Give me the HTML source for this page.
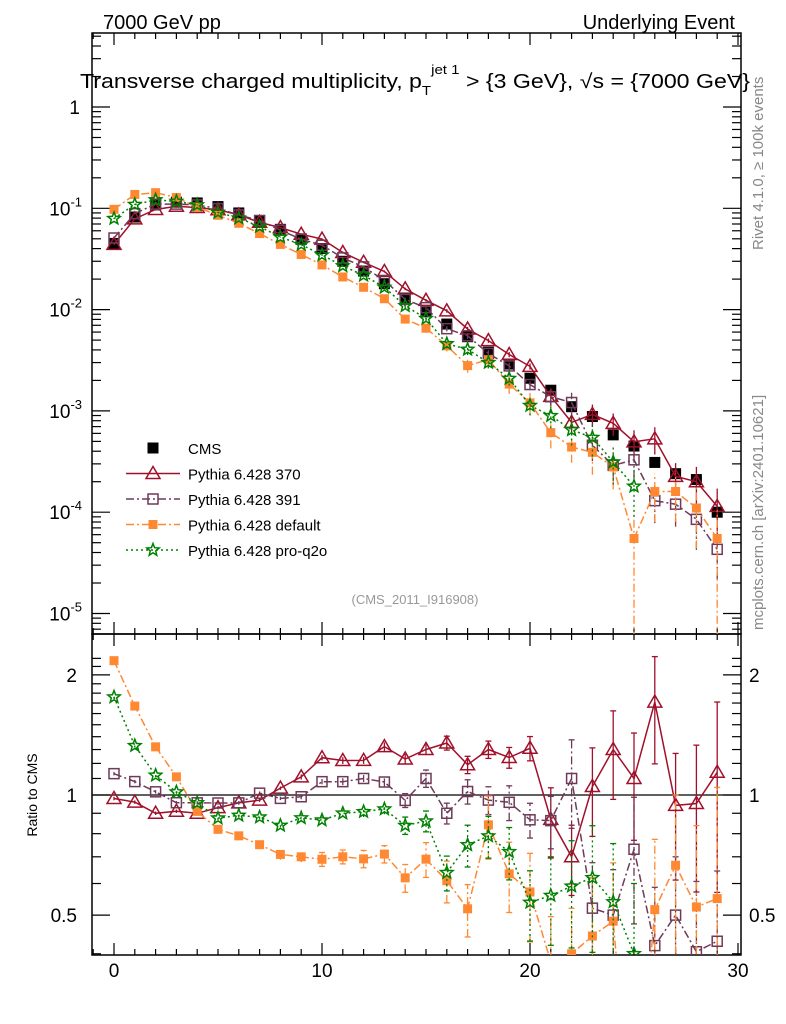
<!DOCTYPE html>
<html><head><meta charset="utf-8"><style>
html,body{margin:0;padding:0;background:#fff;width:786px;height:1024px;overflow:hidden;}
svg{display:block;font-family:"Liberation Sans",Arial,sans-serif;}
</style></head><body>
<svg id="chart" width="786" height="1024" viewBox="0 0 786 1024" xmlns="http://www.w3.org/2000/svg">
<defs>
<clipPath id="clipMain"><rect x="92" y="33" width="649" height="601"/></clipPath>
<clipPath id="clipRatio"><rect x="92" y="634" width="649" height="321"/></clipPath>
</defs>
<text x="103" y="29" font-size="20">7000 GeV pp</text>
<text x="735" y="29" font-size="20" text-anchor="end">Underlying Event</text>
<text x="80" y="88" font-size="20" textLength="670" lengthAdjust="spacingAndGlyphs">Transverse charged multiplicity, p<tspan font-size="13" dy="7">T</tspan><tspan font-size="13" dy="-21">jet 1</tspan><tspan dy="14"> &gt; {3 GeV}, √s = {7000 GeV}</tspan></text>
<text transform="translate(763,250) rotate(-90)" font-size="15" fill="#888">Rivet 4.1.0, ≥ 100k events</text>
<text transform="translate(763,630) rotate(-90)" font-size="15" fill="#888">mcplots.cern.ch [arXiv:2401.10621]</text>
<text x="415" y="604" font-size="13" fill="#999" text-anchor="middle">(CMS_2011_I916908)</text>
<text transform="translate(37,795) rotate(-90)" font-size="14" text-anchor="middle">Ratio to CMS</text>
<g id="axes"></g>
<g id="mainMarks" clip-path="url(#clipMain)"></g>
<g id="ratioMarks" clip-path="url(#clipRatio)"></g>
<g id="legend"></g>
</svg>
<script>
const xs = [0,1,2,3,4,5,6,7,8,9,10,11,12,13,14,15,16,17,18,19,20,21,22,23,24,25,26,27,28,29];
const cmsVals = [0.045,0.082,0.108,0.115,0.113,0.104,0.09,0.075,0.062,0.05,0.04,0.03,0.024,0.018,0.013,0.0095,0.0072,0.0054,0.0038,0.0029,0.0021,0.0016,0.0011,0.00088,0.00058,0.00045,0.00031,0.00024,0.00021,0.0001];
const p370 = [0.0441,0.0787,0.0972,0.1047,0.1017,0.0967,0.086,0.0728,0.0645,0.0555,0.0496,0.0366,0.0293,0.0238,0.016,0.01235,0.00972,0.00643,0.00494,0.0036,0.00275,0.00139,0.00077,0.000924,0.000754,0.000495,0.00053,0.000226,0.0002,0.000114];
const p391 = [0.0509,0.0886,0.110,0.110,0.108,0.0993,0.086,0.0758,0.0608,0.0495,0.0432,0.0324,0.0264,0.0194,0.0126,0.01045,0.00648,0.00551,0.00369,0.00278,0.00182,0.00138,0.00121,0.000458,0.00029,0.000329,0.00013,0.00012,0.000085,0.000043];
const pDef = [0.0977,0.137,0.1426,0.1277,0.1028,0.0853,0.0711,0.0563,0.044,0.035,0.0276,0.021,0.0166,0.0128,0.00806,0.00656,0.00439,0.0028,0.0032,0.00184,0.0012,0.00061,0.00044,0.00039,0.00028,0.000055,0.00016,0.00016,0.00011,0.000055];
const pQ2o = [0.0792,0.109,0.121,0.117,0.108,0.091,0.080,0.066,0.052,0.0438,0.0346,0.027,0.0218,0.0166,0.0109,0.00817,0.0046,0.00405,0.003,0.00209,0.00113,0.000896,0.00065,0.000546,0.000313,0.00018];
const err370 = [0.01,0.01,0.01,0.01,0.01,0.01,0.01,0.01,0.01,0.015,0.015,0.02,0.02,0.025,0.03,0.03,0.04,0.05,0.05,0.06,0.07,0.2,0.2,0.25,0.25,0.3,0.3,0.35,0.4,0.5];
const err391 = [0.01,0.01,0.01,0.01,0.01,0.01,0.01,0.01,0.01,0.015,0.015,0.02,0.02,0.025,0.04,0.05,0.06,0.07,0.08,0.1,0.1,0.15,0.25,0.3,0.3,0.35,0.4,0.4,0.5,0.5];
const errDef = [0.01,0.01,0.01,0.01,0.01,0.01,0.01,0.02,0.03,0.03,0.04,0.04,0.05,0.05,0.08,0.1,0.12,0.15,0.18,0.2,0.25,0.3,0.3,0.4,0.4,0.9,0.5,0.5,0.6,0.9];
const errQ2o = [0.01,0.01,0.01,0.01,0.01,0.01,0.01,0.01,0.01,0.02,0.02,0.02,0.03,0.03,0.05,0.06,0.1,0.12,0.12,0.15,0.2,0.25,0.3,0.35,0.4,0.5];
const xTicks = [0,10,20,30];
const yDecades = [0,-1,-2,-3,-4,-5];
const ratioTicks = [0.5,1,2];

const NS="http://www.w3.org/2000/svg";
const X0=92,X1=741,MT=33,MB=634,RB=955;
const sx=v=>114+20.8*v;
const sy=v=>107-101.3*Math.log10(v);
const sr=v=>795-399*Math.log10(v);
function mk(tag,attrs,parent){const e=document.createElementNS(NS,tag);for(const k in attrs)e.setAttribute(k,attrs[k]);parent.appendChild(e);return e;}
const axes=document.getElementById('axes');
const mainG=document.getElementById('mainMarks');
const ratioG=document.getElementById('ratioMarks');
const legG=document.getElementById('legend');

let f1=mk('rect',{x:X0,y:MT,width:X1-X0,height:MB-MT,fill:'none',stroke:'#000','stroke-width':1.5},axes);


let f2=mk('rect',{x:X0,y:MB,width:X1-X0,height:RB-MB,fill:'none',stroke:'#000','stroke-width':1.5},axes);


for(let v=-1;v<=30;v++){const X=sx(v);if(X<X0||X>X1)continue;const L=(v%10===0)?12:6;
 for(const [yb,dir] of [[MT,1],[MB,-1],[MB,1],[RB,-1]]){mk('line',{x1:X,x2:X,y1:yb,y2:yb+dir*L,stroke:'#000','stroke-width':1.2},axes);}}
xTicks.forEach(v=>{const t=mk('text',{x:sx(v),y:977,'font-size':19,'text-anchor':'middle'},axes);t.textContent=v;
 
 });
for(let d=-6;d<=0;d++){for(let m=1;m<10;m++){const v=m*Math.pow(10,d);const Y=sy(v);if(Y<MT||Y>MB)continue;const L=m===1?18:9;
 mk('line',{x1:X0,x2:X0+L,y1:Y,y2:Y,stroke:'#000','stroke-width':1.2},axes);mk('line',{x1:X1,x2:X1-L,y1:Y,y2:Y,stroke:'#000','stroke-width':1.2},axes);}}
yDecades.forEach(d=>{const Y=sy(Math.pow(10,d));const t=mk('text',{x:d===0?80:82,y:Y+7,'font-size':19,'text-anchor':'end'},axes);
 
 
 if(d===0)t.textContent='1';else{t.textContent='10';const s=mk('tspan',{dy:-9,'font-size':13},t);s.textContent=String(d);}});
for(let v=0.4;v<=2.3;v+=0.1){const Y=sr(v);if(Y<MB||Y>RB)continue;const maj=Math.abs(v-1)<1e-6||Math.abs(v-2)<1e-6||Math.abs(v-0.5)<1e-6;const L=maj?18:9;
 mk('line',{x1:X0,x2:X0+L,y1:Y,y2:Y,stroke:'#000','stroke-width':1.2},axes);mk('line',{x1:X1,x2:X1-L,y1:Y,y2:Y,stroke:'#000','stroke-width':1.2},axes);}
ratioTicks.forEach(v=>{const Y=sr(v)+7;
 const t=mk('text',{x:77,y:Y,'font-size':19,'text-anchor':'end'},axes);t.textContent=v;
 
 
 const t2=mk('text',{x:749,y:Y,'font-size':19},axes);t2.textContent=v;
 
 });
mk('line',{x1:X0,x2:X1,y1:sr(1),y2:sr(1),stroke:'#000','stroke-width':1.3},axes);

function marker(g,type,X,Y,col){
 if(type==='sqfill')return mk('rect',{x:X-5.5,y:Y-5.5,width:11,height:11,fill:'#000'},g);
 if(type==='tri')return mk('polygon',{points:`${X},${Y-7} ${X-7},${Y+5} ${X+7},${Y+5}`,fill:'#fff','fill-opacity':0,stroke:col,'stroke-width':1.5},g);
 if(type==='sqopen')return mk('rect',{x:X-5,y:Y-5,width:10,height:10,fill:'none',stroke:col,'stroke-width':1.5},g);
 if(type==='sqsmall')return mk('rect',{x:X-4.5,y:Y-4.5,width:9,height:9,fill:col},g);
 if(type==='star'){let p=[];for(let i=0;i<10;i++){const r=i%2?2.8:6.5;const a=-Math.PI/2+i*Math.PI/5;p.push((X+r*Math.cos(a)).toFixed(1)+','+(Y+r*Math.sin(a)).toFixed(1));}
  return mk('polygon',{points:p.join(' '),fill:'none',stroke:col,'stroke-width':1.5},g);}
}
const series=[
 {name:'pythia-370',vals:p370,err:err370,col:'#a0102a',dash:'',m:'tri'},
 {name:'pythia-391',vals:p391,err:err391,col:'#6e3a58',dash:'8,3,2,3',m:'sqopen'},
 {name:'pythia-default',vals:pDef,err:errDef,col:'#ff8833',dash:'8,3,2,3',m:'sqsmall'},
 {name:'pythia-pro-q2o',vals:pQ2o,err:errQ2o,col:'#008000',dash:'2,3',m:'star'}
];
cmsVals.forEach((v,i)=>{const r=marker(mainG,'sqfill',sx(xs[i]),sy(v));
 
 });
series.forEach(s=>{
 const gm=mk('g',{},mainG);
 
 
 const gr=mk('g',{},ratioG);
 
 
 const pm=s.vals.map((v,i)=>sx(xs[i]).toFixed(1)+','+sy(v).toFixed(1)).join(' ');
 mk('polyline',{points:pm,fill:'none',stroke:s.col,'stroke-width':1.5,'stroke-dasharray':s.dash},gm);
 const pr=s.vals.map((v,i)=>sx(xs[i]).toFixed(1)+','+sr(v/cmsVals[i]).toFixed(1)).join(' ');
 mk('polyline',{points:pr,fill:'none',stroke:s.col,'stroke-width':1.5,'stroke-dasharray':s.dash},gr);
 s.vals.forEach((v,i)=>{const X=sx(xs[i]);const e=s.err[i];
  const lo=Math.max(v*(1-e),1e-7),hi=v*(1+e);
  mk('line',{x1:X,x2:X,y1:sy(lo),y2:sy(hi),stroke:s.col,'stroke-width':1.3,'stroke-dasharray':s.dash},gm);
  const r=v/cmsVals[i];const rl=Math.max(r*(1-e),0.01),rh=r*(1+e);
  mk('line',{x1:X,x2:X,y1:sr(rl),y2:sr(rh),stroke:s.col,'stroke-width':1.3,'stroke-dasharray':s.dash},gr);
  if(e>0.03){for(const yy of [sr(rl),sr(rh)])mk('line',{x1:X-3,x2:X+3,y1:yy,y2:yy,stroke:s.col,'stroke-width':1.3},gr);}
  const a=marker(gm,s.m,X,sy(v),s.col);
  
  
  const b=marker(gr,s.m,X,sr(r),s.col);
  
  
 });
});
const legItems=[['CMS','sqfill','#000',''],['Pythia 6.428 370','tri','#a0102a',''],['Pythia 6.428 391','sqopen','#6e3a58','8,3,2,3'],['Pythia 6.428 default','sqsmall','#ff8833','8,3,2,3'],['Pythia 6.428 pro-q2o','star','#008000','2,3']];
legItems.forEach((it,i)=>{const Y=448+i*25.5;
 const g=mk('g',{},legG);
 
 
 if(i>0)mk('line',{x1:126,x2:180,y1:Y,y2:Y,stroke:it[2],'stroke-width':1.5,'stroke-dasharray':it[3]},g);
 marker(g,it[1],153,Y,it[2]);
 const t=mk('text',{x:188,y:Y+6,'font-size':15},g);t.textContent=it[0];});
</script>
</body></html>
